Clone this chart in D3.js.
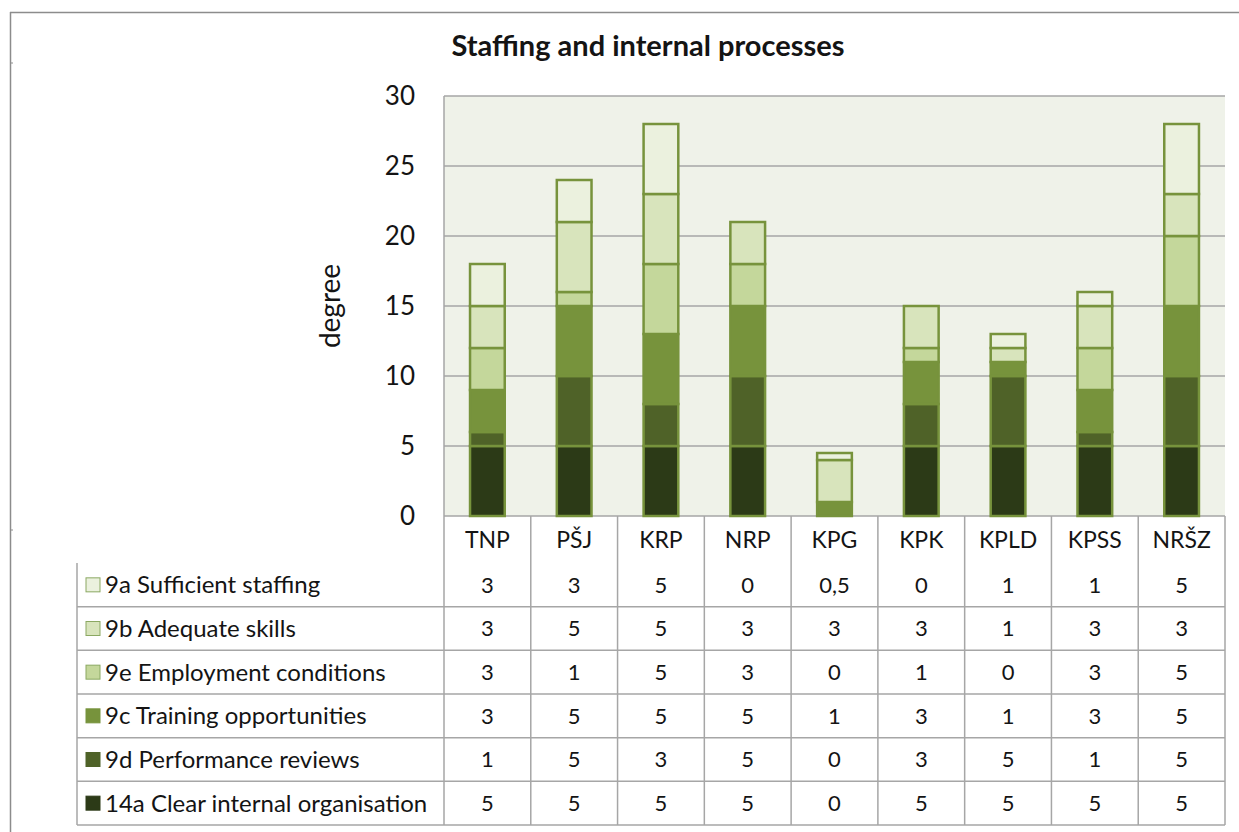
<!DOCTYPE html>
<html>
<head>
<meta charset="utf-8">
<script src="https://cdn.jsdelivr.net/npm/d3@7"></script>
<style>
  html, body { margin: 0; padding: 0; background: #ffffff; }
  svg { display: block; }
  text { font-family: Lato, "Open Sans", sans-serif; fill: #141414; }
</style>
</head>
<body>
<div id="chart"></div>
<script>
// Sites along the x axis
const categories = ["TNP", "PŠJ", "KRP", "NRP", "KPG", "KPK", "KPLD", "KPSS", "NRŠZ"];

// Scores per indicator, one value per site (same order as categories)
const s9a  = [3, 3, 5, 0, 0.5, 0, 1, 1, 5];
const s9b  = [3, 5, 5, 3, 3, 3, 1, 3, 3];
const s9e  = [3, 1, 5, 3, 0, 1, 0, 3, 5];
const s9c  = [3, 5, 5, 5, 1, 3, 1, 3, 5];
const s9d  = [1, 5, 3, 5, 0, 3, 5, 1, 5];
const s14a = [5, 5, 5, 5, 0, 5, 5, 5, 5];

// Indicator names, top-to-bottom as listed in the data table
const seriesNames = [
  "9a Sufficient staffing",
  "9b Adequate skills",
  "9e Employment conditions",
  "9c Training opportunities",
  "9d Performance reviews",
  "14a Clear internal organisation"
];
const seriesValues = [s9a, s9b, s9e, s9c, s9d, s14a];
const seriesColors = ["#ebf1de", "#d8e4bc", "#c4d79b", "#77933c", "#4f6228", "#2c3a17"];

const yTicks = [0, 5, 10, 15, 20, 25, 30];
const title = "Staffing and internal processes";
const yLabel = "degree";

// ---- layout ----
const W = 1239, H = 832;
const plot = { left: 444, right: 1225, top: 96, bottom: 516 };
const tableLeft = 77;
const headerBottom = 563;
const tableBottom = 825;
const gridColor = "#a6a6a6";
const barStroke = "#77933c";

const svg = d3.select("#chart").append("svg")
  .attr("width", W).attr("height", H);

// outer frame
const frame = svg.append("g").attr("stroke", "#8c8c8c").attr("stroke-width", 1.5).attr("fill", "none");
frame.append("line").attr("x1", 10).attr("x2", W).attr("y1", 12.5).attr("y2", 12.5);
frame.append("line").attr("x1", 10.5).attr("x2", 10.5).attr("y1", 12).attr("y2", H);
frame.append("line").attr("x1", 10).attr("x2", 13).attr("y1", 63).attr("y2", 63).attr("stroke-width", 1);
frame.append("line").attr("x1", 10).attr("x2", 13).attr("y1", 530).attr("y2", 530).attr("stroke-width", 1);

// one record per site, keyed by indicator name
const rows = categories.map((c, i) => {
  const r = { cat: c };
  seriesNames.forEach((n, k) => { r[n] = seriesValues[k][i]; });
  return r;
});

const col = d3.scaleBand().domain(categories).range([plot.left, plot.right]);
const x = d3.scaleBand().domain(categories).range([plot.left, plot.right])
  .paddingInner(0.6).paddingOuter(0.3);
const y = d3.scaleLinear().domain([0, 30]).range([plot.bottom, plot.top]);
const color = d3.scaleOrdinal().domain(seriesNames).range(seriesColors);

// plot background
svg.append("rect")
  .attr("x", plot.left).attr("y", plot.top)
  .attr("width", plot.right - plot.left).attr("height", plot.bottom - plot.top)
  .attr("fill", "#eff2e9");

// gridlines
svg.append("g").selectAll("line").data(yTicks).join("line")
  .attr("x1", plot.left).attr("x2", plot.right)
  .attr("y1", d => y(d)).attr("y2", d => y(d))
  .attr("stroke", gridColor).attr("stroke-width", 1.5);

// y axis labels
const yAxis = d3.axisLeft(y).tickValues(yTicks).tickSize(0).tickPadding(0);
const yg = svg.append("g").attr("transform", `translate(${415},0)`).call(yAxis);
yg.select(".domain").remove();
yg.selectAll("text").attr("font-size", 26).attr("font-family", "Lato, sans-serif").attr("fill", "#141414");

// y axis title
svg.append("text")
  .attr("transform", `translate(${340},${306}) rotate(-90)`)
  .attr("text-anchor", "middle")
  .attr("font-size", 28)
  .text(yLabel);

// chart title
svg.append("text")
  .attr("x", 648).attr("y", 56)
  .attr("text-anchor", "middle")
  .attr("font-size", 29).attr("font-weight", "bold")
  .text(title);

// stacked bars: bottom-most series is the last row of the table
const stackKeys = seriesNames.slice().reverse();
const stacked = d3.stack().keys(stackKeys)(rows);

svg.append("g").selectAll("g").data(stacked).join("g")
  .attr("fill", d => color(d.key))
  .selectAll("rect").data(d => d.filter(p => p[1] - p[0] > 0)).join("rect")
  .attr("x", d => x(d.data.cat))
  .attr("width", x.bandwidth())
  .attr("y", d => y(d[1]))
  .attr("height", d => y(d[0]) - y(d[1]))
  .attr("stroke", barStroke).attr("stroke-width", 2.5);

// ---- data table ----
const rowH = (tableBottom - headerBottom) / seriesNames.length;
const tbl = svg.append("g").attr("stroke", gridColor).attr("stroke-width", 1.5);

// column separators (from axis down through table)
const colEdges = categories.map(c => col(c)).concat([plot.right]);
tbl.selectAll("line.v").data(colEdges).join("line").attr("class", "v")
  .attr("x1", d => d).attr("x2", d => d)
  .attr("y1", (d, i) => i === 0 ? plot.top : plot.bottom)
  .attr("y2", tableBottom);
// left edge of legend column
tbl.append("line").attr("x1", tableLeft).attr("x2", tableLeft)
  .attr("y1", headerBottom).attr("y2", tableBottom);
// row separators
const rowEdges = d3.range(1, seriesNames.length + 1).map(k => headerBottom + k * rowH);
tbl.selectAll("line.h").data(rowEdges).join("line").attr("class", "h")
  .attr("x1", tableLeft).attr("x2", plot.right)
  .attr("y1", d => d).attr("y2", d => d);

// category labels
svg.append("g").selectAll("text").data(categories).join("text")
  .attr("x", d => col(d) + col.bandwidth() / 2)
  .attr("y", (plot.bottom + headerBottom) / 2)
  .attr("dy", "0.35em")
  .attr("text-anchor", "middle")
  .attr("font-size", 23)
  .text(d => d);

const fmt = d3.formatLocale({ decimal: ",", thousands: ".", grouping: [3], currency: ["", "€"] }).format("~g");

// one table row per series
const trow = svg.append("g").selectAll("g").data(seriesNames).join("g")
  .attr("transform", (d, k) => `translate(0,${headerBottom + k * rowH + rowH / 2})`);

trow.append("rect")
  .attr("x", 86).attr("y", -7).attr("width", 14).attr("height", 14)
  .attr("fill", d => color(d))
  .attr("stroke", (d, k) => k < 3 ? "#8ba862" : color(d))
  .attr("stroke-width", 1);

trow.append("text")
  .attr("x", 105).attr("dy", "0.35em")
  .attr("font-size", 24)
  .text(d => d);

trow.each(function(name, k) {
  d3.select(this).selectAll("text.v").data(seriesValues[k]).join("text")
    .attr("class", "v")
    .attr("x", (v, i) => col(categories[i]) + col.bandwidth() / 2)
    .attr("dy", "0.35em")
    .attr("text-anchor", "middle")
    .attr("font-size", 22)
    .text(v => fmt(v));
});
</script>
</body>
</html>
